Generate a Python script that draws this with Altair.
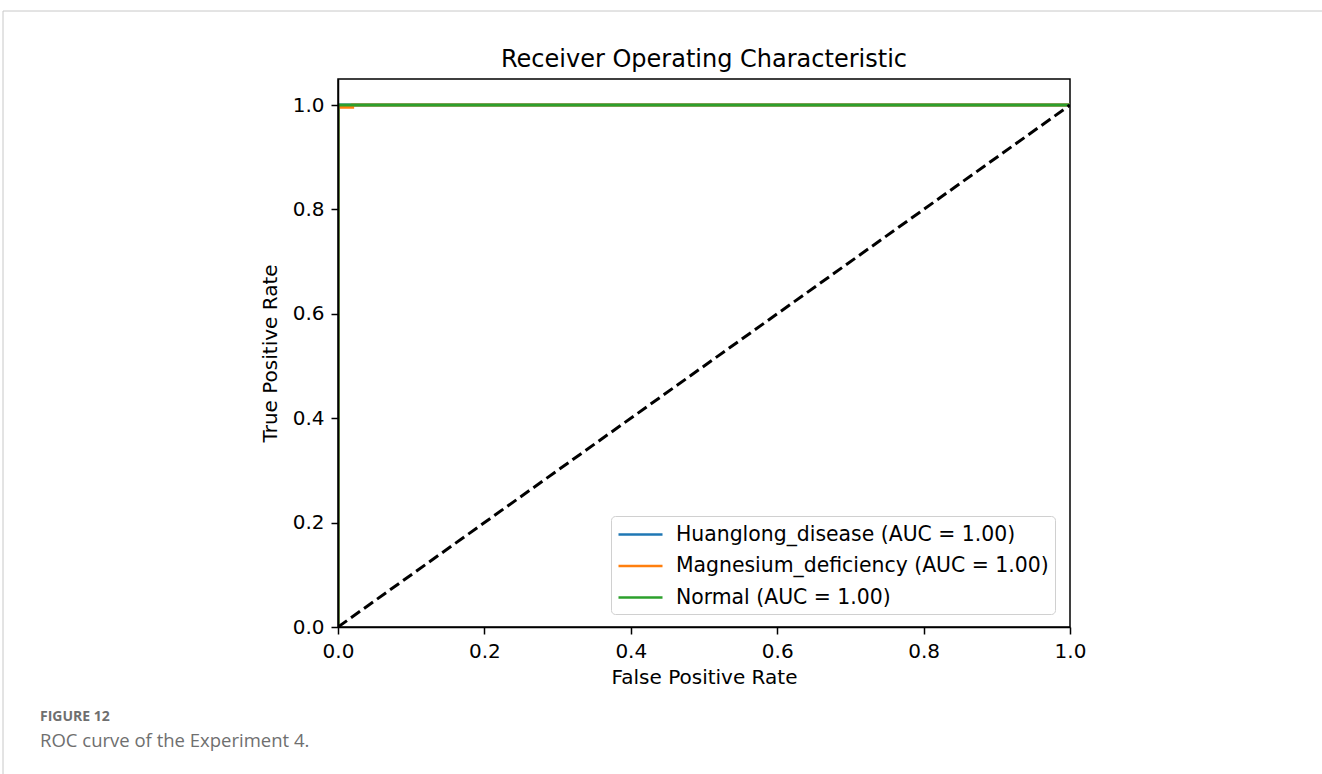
import altair as alt
import pandas as pd

# Series data
labels = ["Huanglong_disease (AUC = 1.00)",
          "Magnesium_deficiency (AUC = 1.00)",
          "Normal (AUC = 1.00)"]
colors = ["#1f77b4", "#ff7f0e", "#2ca02c"]

fpr_hl = [0.0, 0.0, 1.0]
tpr_hl = [0.0, 1.0, 1.0]
fpr_mg = [0.0, 0.0, 0.02, 0.02, 1.0]
tpr_mg = [0.0, 0.996, 0.996, 1.0, 1.0]
fpr_nm = [0.0, 0.0, 1.0]
tpr_nm = [0.0, 1.0, 1.0]

diag_x = [0.0, 1.0]
diag_y = [0.0, 1.0]

tick_vals = [0.0, 0.2, 0.4, 0.6, 0.8, 1.0]

title_text = "Receiver Operating Characteristic"
caption_head = "FIGURE 12"
caption_text = "ROC curve of the Experiment 4."

rows = []
for i, (lab, xs_, ys_) in enumerate(zip(labels, [fpr_hl, fpr_mg, fpr_nm], [tpr_hl, tpr_mg, tpr_nm])):
    for j, (x, y) in enumerate(zip(xs_, ys_)):
        rows.append({"series": lab, "fpr": x, "tpr": y, "k": i, "o": j})
df = pd.DataFrame(rows)
diag = pd.DataFrame({"fpr": diag_x, "tpr": diag_y})

FONT = "DejaVu Sans"
W, H = 732, 548
PL, PT = 338, 79

xs = alt.Scale(domain=[0, 1], nice=False, zero=False)
ys = alt.Scale(domain=[0, 1.05], nice=False, zero=False)

common_axis = dict(values=tick_vals, format=".1f", grid=False,
                   labelFontSize=20, titleFontSize=20, labelFont=FONT, titleFont=FONT,
                   labelColor="#000", titleColor="#000", tickColor="#000", domainColor="#000",
                   tickSize=7, tickWidth=1.5, domainWidth=1.5, labelPadding=7,
                   titleFontWeight="normal", labelFlush=False, zindex=1)
xaxis = alt.Axis(title="False Positive Rate", titlePadding=6, **common_axis)
yaxis = alt.Axis(title="True Positive Rate", titlePadding=12, **common_axis)

lines = alt.Chart(df).mark_line(strokeWidth=3, clip=True).encode(
    x=alt.X("fpr:Q", scale=xs, axis=xaxis),
    y=alt.Y("tpr:Q", scale=ys, axis=yaxis),
    color=alt.Color("series:N", scale=alt.Scale(domain=labels, range=colors),
                    legend=alt.Legend(orient="none", legendX=273, legendY=437, title=None,
                                      symbolType="M-2,0H2", symbolSize=484, symbolStrokeWidth=2.5,
                                      symbolOffset=11, labelOffset=23,
                                      labelFontSize=20.4, labelFont=FONT, labelColor="#000",
                                      labelLimit=600, rowPadding=8.5, padding=6,
                                      strokeColor="#d0d0d0", fillColor="white",
                                      cornerRadius=4)),
    detail="k:N",
    order="o:Q",
)

diag_line = alt.Chart(diag).mark_line(color="black", strokeWidth=3,
                                      strokeDash=[11, 5], clip=True).encode(
    x=alt.X("fpr:Q", scale=xs),
    y=alt.Y("tpr:Q", scale=ys),
)

one = pd.DataFrame({"a": [0]})
title_mark = alt.Chart(pd.DataFrame({"t": [title_text]})).mark_text(
    align="center", baseline="alphabetic", font=FONT, fontSize=24, color="#000").encode(
    text="t:N", x=alt.value(W / 2), y=alt.value(67 - PT))

# page decorations (frame lines and caption)
frame_top = alt.Chart(one).mark_rule(color="#c8c8c8", strokeWidth=1).encode(
    x=alt.value(3 - PL), x2=alt.value(1322 - PL), y=alt.value(11 - PT))
frame_left = alt.Chart(one).mark_rule(color="#c8c8c8", strokeWidth=1).encode(
    x=alt.value(3 - PL), y=alt.value(11 - PT), y2=alt.value(774 - PT))
cap1 = alt.Chart(pd.DataFrame({"t": [caption_head]})).mark_text(
    align="left", baseline="middle", font="Open Sans", fontSize=14, fontWeight="bold",
    color="#6f6f6f").encode(text="t:N", x=alt.value(40 - PL), y=alt.value(717 - PT))
cap2 = alt.Chart(pd.DataFrame({"t": [caption_text]})).mark_text(
    align="left", baseline="middle", font="Open Sans", fontSize=18.5,
    color="#6f6f6f").encode(text="t:N", x=alt.value(40 - PL), y=alt.value(741 - PT))

chart = alt.layer(lines, diag_line, title_mark, frame_top, frame_left, cap1, cap2).properties(
    width=W, height=H,
    autosize=alt.AutoSizeParams(type="none"),
    padding={"left": PL, "top": PT, "right": 1322 - PL - W, "bottom": 774 - PT - H},
).configure(background="white").configure_view(stroke="black", strokeWidth=1.5)

chart.save("out.html", embed_options={"renderer": "svg", "actions": False})
